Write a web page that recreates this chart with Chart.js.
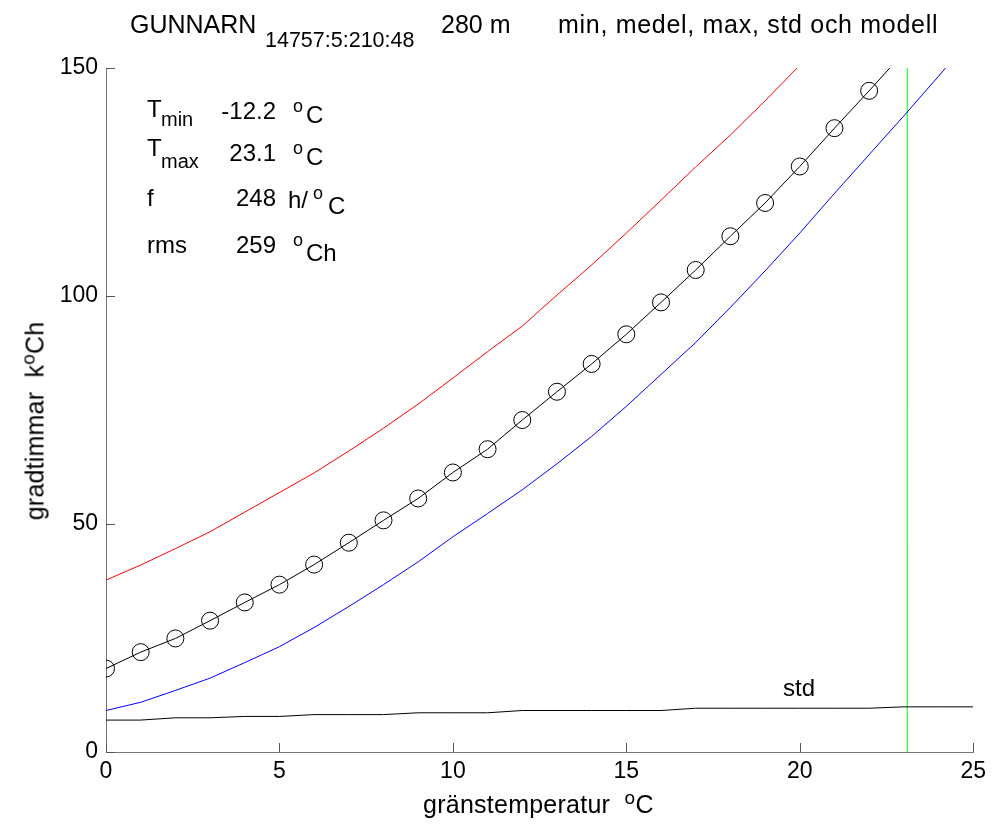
<!DOCTYPE html>
<html>
<head>
<meta charset="utf-8">
<script src="https://cdn.jsdelivr.net/npm/chart.js@4.4.0/dist/chart.umd.min.js"></script>
<style>
  body { margin: 0; background: #fff; }
  #wrap { position: relative; width: 992px; height: 830px; font-family: "Liberation Sans", Arial, sans-serif; color: #000; }
  #wrap canvas { position: absolute; left: 0; top: 0; }
  .t { position: absolute; white-space: nowrap; line-height: 1; font-size: 24px; }
  .s { font-size: 20px; }
  .o { font-size: 18px; }
  .r { text-align: right; width: 80px; }
</style>
</head>
<body>
<div id="wrap">
  <canvas id="graf" width="992" height="830"></canvas>

  <!-- rubrik -->
  <div class="t" style="left:130px;top:12px;font-size:25px">GUNNARN</div>
  <div class="t s" style="left:265px;top:30px;font-size:21.5px">14757:5:210:48</div>
  <div class="t" style="left:441px;top:12px;font-size:25px">280 m</div>
  <div class="t" style="left:558px;top:12px;font-size:25px;letter-spacing:0.7px">min, medel, max, std och modell</div>

  <!-- textruta -->
  <div class="t" style="left:147px;top:97px">T</div>
  <div class="t s" style="left:161px;top:109px">min</div>
  <div class="t r" style="left:196px;top:99px">-12.2</div>
  <div class="t o" style="left:293px;top:97px">o</div>
  <div class="t" style="left:306px;top:103px">C</div>

  <div class="t" style="left:147px;top:136px">T</div>
  <div class="t s" style="left:161px;top:151px">max</div>
  <div class="t r" style="left:196px;top:141px">23.1</div>
  <div class="t o" style="left:293px;top:139px">o</div>
  <div class="t" style="left:306px;top:145px">C</div>

  <div class="t" style="left:147px;top:186px">f</div>
  <div class="t r" style="left:196px;top:186px">248</div>
  <div class="t" style="left:288px;top:188px">h/</div>
  <div class="t o" style="left:313px;top:184px">o</div>
  <div class="t" style="left:328px;top:194px">C</div>

  <div class="t" style="left:147px;top:233px">rms</div>
  <div class="t r" style="left:196px;top:233px">259</div>
  <div class="t o" style="left:293px;top:231px">o</div>
  <div class="t" style="left:306px;top:241px">Ch</div>

  <div class="t" style="left:783px;top:676px">std</div>

  <!-- axeltitlar -->
  <div class="t" style="left:423px;top:792px;font-size:25px;letter-spacing:0.25px">gränstemperatur&nbsp; <span style="font-size:19px;position:relative;top:-9px">o</span>C</div>
  <div class="t" style="left:35px;top:421px;font-size:25px;letter-spacing:0.2px;transform:translate(-50%,-50%) rotate(-90deg)">gradtimmar&nbsp; k<span style="font-size:19px;position:relative;top:-9px">o</span>Ch</div>
</div>

<script>
// gränstemperatur (x) 0..25
const temperaturer = [0, 1, 2, 3, 4, 5, 6, 7, 8, 9, 10, 11, 12, 13, 14, 15, 16, 17, 18, 19, 20, 21, 22, 23, 24, 25];

// medelvärden (cirklar), x = 0..22
const medel = [18.3, 21.9, 24.9, 28.8, 32.8, 36.7, 41.1, 45.9, 50.8, 55.6, 61.3, 66.4, 72.8, 79.0, 85.1, 91.6, 98.6, 105.7, 113.1, 120.4, 128.4, 136.8, 145.0];
// modellkurva, x = 0..23
const modell = [18.3, 21.9, 24.9, 28.8, 32.8, 36.7, 41.1, 45.9, 50.8, 55.6, 61.3, 66.4, 72.8, 79.0, 85.1, 91.6, 98.6, 105.7, 113.1, 120.4, 128.4, 136.8, 145.0, 153.4];
// max (röd), x = 0..20
const maxVarden = [37.7, 41.0, 44.6, 48.3, 52.6, 56.9, 61.2, 66.0, 71.0, 76.3, 82.0, 87.8, 93.4, 100.2, 106.8, 113.8, 121.0, 128.3, 135.3, 142.8, 150.6];
// min (blå), x = 0..25
const minVarden = [9.1, 10.9, 13.5, 16.2, 19.6, 23.1, 27.3, 31.9, 36.7, 41.7, 47.2, 52.3, 57.5, 63.2, 69.2, 75.8, 82.8, 89.8, 97.5, 105.5, 113.8, 122.5, 131.0, 139.5, 148.2, 157.0];
// standardavvikelse, x = 0..25
const stdVarden = [7.0, 7.0, 7.5, 7.5, 7.8, 7.8, 8.2, 8.2, 8.2, 8.6, 8.6, 8.6, 9.1, 9.1, 9.1, 9.1, 9.1, 9.6, 9.6, 9.6, 9.6, 9.6, 9.6, 9.9, 9.9, 9.9];
// Tmax
const tmax = 23.1;

const xTicks = [0, 5, 10, 15, 20, 25];
const yTicks = [0, 50, 100, 150];

function par(ys) {
  return ys.map((v, i) => ({ x: temperaturer[i], y: v }));
}

const innerTicks = {
  id: "innerTicks",
  afterDraw(chart) {
    const { ctx, chartArea: a, scales: { x, y } } = chart;
    ctx.save();
    ctx.strokeStyle = "#555";
    ctx.lineWidth = 1;
    ctx.beginPath();
    xTicks.forEach(v => {
      const px = Math.round(x.getPixelForValue(v)) + 0.5;
      ctx.moveTo(px, a.bottom);
      ctx.lineTo(px, a.bottom - 9);
    });
    yTicks.forEach(v => {
      const py = Math.round(y.getPixelForValue(v)) + 0.5;
      ctx.moveTo(a.left, py);
      ctx.lineTo(a.left + 9, py);
    });
    ctx.stroke();
    ctx.restore();
  }
};

const linje = (data, color) => ({
  data: data,
  showLine: true,
  borderColor: color,
  borderWidth: 1,
  pointRadius: 0,
  tension: 0,
  fill: false
});

const ctx = document.getElementById("graf").getContext("2d");
const graf = new Chart(ctx, {
  type: "scatter",
  data: {
    datasets: [
      linje(par(maxVarden), "#ff0000"),
      linje(par(minVarden), "#0000ff"),
      linje(par(stdVarden), "#000000"),
      linje(par(modell), "#000000"),
      linje([{ x: tmax, y: 0 }, { x: tmax, y: 150 }], "#00ff00"),
      {
        data: par(medel),
        showLine: false,
        pointStyle: "circle",
        pointRadius: 8.5,
        pointBorderWidth: 1,
        pointBorderColor: "#000",
        pointBackgroundColor: "rgba(0,0,0,0)"
      }
    ]
  },
  options: {
    responsive: false,
    animation: false,
    events: [],
    layout: { padding: { top: 68, right: 18, bottom: 0, left: 0 } },
    plugins: { legend: { display: false }, tooltip: { enabled: false } },
    scales: {
      x: {
        type: "linear",
        min: 0,
        max: 25,
        afterFit: s => { s.height = 78; },
        afterBuildTicks: s => { s.ticks = xTicks.map(v => ({ value: v })); },
        grid: { display: false, drawTicks: false },
        border: { display: true, color: "#777", width: 1 },
        ticks: { color: "#000", padding: 6, font: { family: "Liberation Sans", size: 23 } }
      },
      y: {
        type: "linear",
        min: 0,
        max: 150,
        afterFit: s => { s.width = 106; },
        afterBuildTicks: s => { s.ticks = yTicks.map(v => ({ value: v })); },
        grid: { display: false, drawTicks: false },
        border: { display: true, color: "#777", width: 1 },
        ticks: { color: "#000", padding: 8, font: { family: "Liberation Sans", size: 23 } }
      }
    }
  },
  plugins: [innerTicks]
});
</script>
</body>
</html>
